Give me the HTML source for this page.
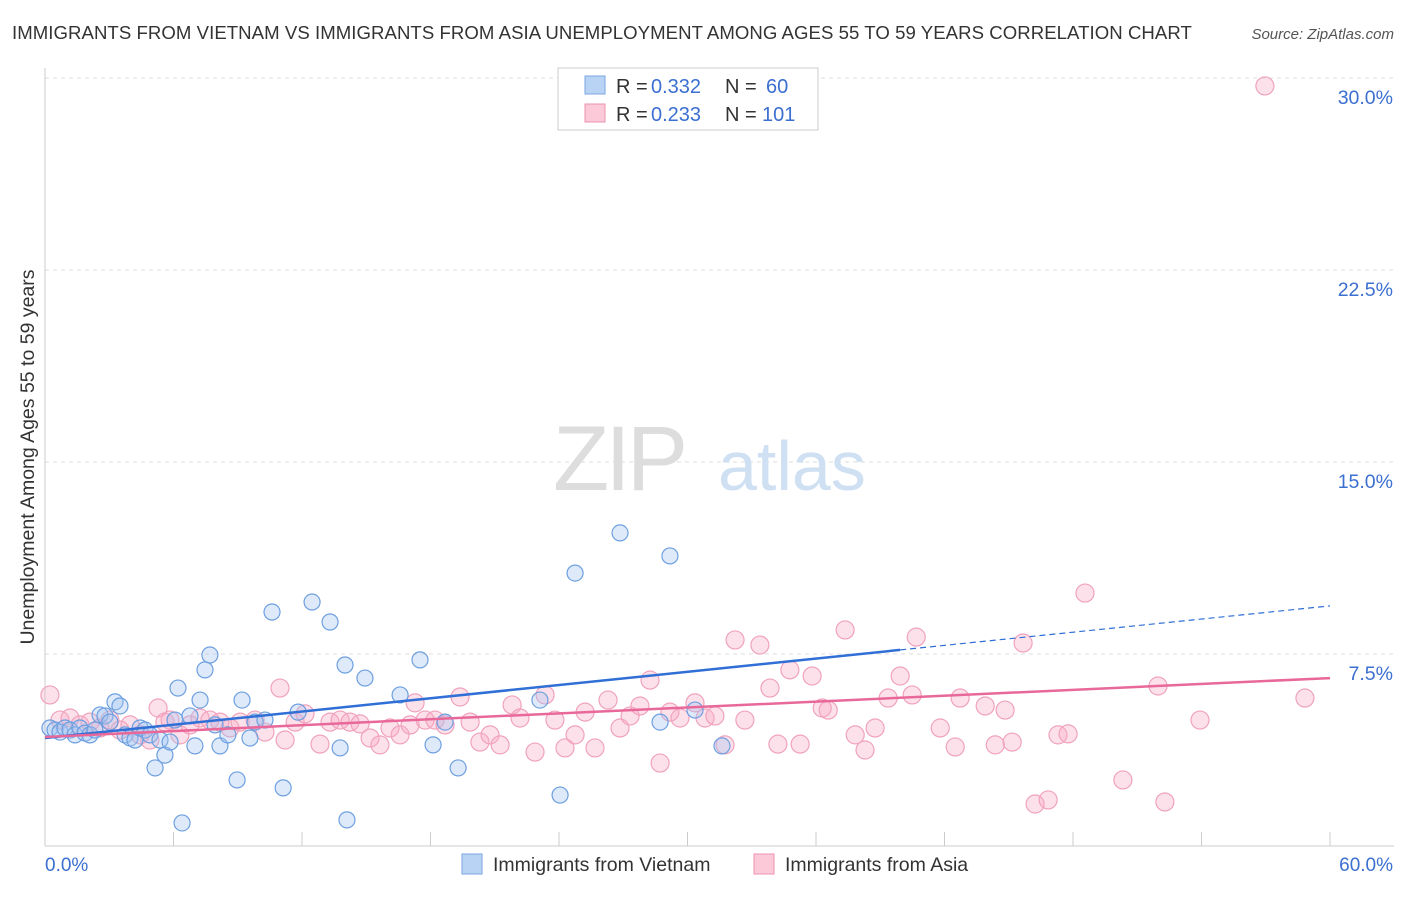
<!DOCTYPE html>
<html><head><meta charset="utf-8"><style>
body{margin:0;background:#fff;font-family:"Liberation Sans",sans-serif;}
svg text{font-family:"Liberation Sans",sans-serif;}
</style></head><body>
<svg id="chart" width="1406" height="892" viewBox="0 0 1406 892" xmlns="http://www.w3.org/2000/svg">
<text x="12" y="39" font-size="18.6" fill="#333" letter-spacing="0.05">IMMIGRANTS FROM VIETNAM VS IMMIGRANTS FROM ASIA UNEMPLOYMENT AMONG AGES 55 TO 59 YEARS CORRELATION CHART</text>
<text x="1394" y="39" font-size="15" fill="#555" font-style="italic" text-anchor="end">Source: ZipAtlas.com</text>
<g id="grid"></g>
<g id="axes"></g>
<text x="553" y="490" font-size="92" fill="#ddd" font-family="Liberation Serif" letter-spacing="-4">ZIP</text>
<text x="718" y="490" font-size="70" fill="#cfe0f3">atlas</text>
<g id="pink"></g>
<g id="blue"></g>
<g id="trends"></g>
<text transform="translate(34,457) rotate(-90)" font-size="19.5" fill="#333" text-anchor="middle">Unemployment Among Ages 55 to 59 years</text>
<g>
<rect x="558" y="68" width="260" height="62" fill="#fff" stroke="#ccc"/>
<rect x="585" y="76" width="20" height="18" fill="#b9d3f5" stroke="#7aa6e0"/>
<rect x="585" y="104" width="20" height="18" fill="#fbc9d8" stroke="#ee93b1"/>
<text x="616" y="93" font-size="20" fill="#333">R =</text>
<text x="651" y="93" font-size="20" fill="#3b6fd0">0.332</text>
<text x="725" y="93" font-size="20" fill="#333">N =</text>
<text x="766" y="93" font-size="20" fill="#3b6fd0">60</text>
<text x="616" y="121" font-size="20" fill="#333">R =</text>
<text x="651" y="121" font-size="20" fill="#3b6fd0">0.233</text>
<text x="725" y="121" font-size="20" fill="#333">N =</text>
<text x="762" y="121" font-size="20" fill="#3b6fd0">101</text>
</g>
<g>
<rect x="462" y="854" width="20" height="20" fill="#b9d3f5" stroke="#7aa6e0"/>
<text x="493" y="871" font-size="19.5" fill="#333">Immigrants from Vietnam</text>
<rect x="754" y="854" width="20" height="20" fill="#fbc9d8" stroke="#ee93b1"/>
<text x="785" y="871" font-size="19.5" fill="#333">Immigrants from Asia</text>
</g>
</svg>
<script>
const yTicks=[7.5,15,22.5,30];
const yTickLabels=["7.5%","15.0%","22.5%","30.0%"];
const xTickVals=[0,6,12,18,24,30,36,42,48,54,60];
const blueX=[0.23,0.47,0.70,0.93,1.17,1.40,1.63,1.87,2.10,2.33,2.57,2.80,3.03,3.27,3.50,3.74,3.97,4.20,4.44,4.67,4.90,5.14,5.37,5.60,5.84,6.07,6.21,6.40,6.77,7.00,7.24,7.47,7.70,7.94,8.17,8.54,8.97,9.20,9.57,9.81,10.27,10.60,11.12,11.82,12.47,13.31,13.78,14.01,14.10,14.94,16.58,17.51,18.12,18.68,19.29,23.11,24.05,24.75,26.85,28.72,29.18,30.35,31.61];
const blueY=[4.61,4.53,4.45,4.61,4.53,4.34,4.61,4.41,4.34,4.53,5.12,5.08,4.84,5.63,5.47,4.34,4.22,4.14,4.61,4.53,4.34,3.05,4.14,3.55,4.06,4.92,6.17,0.90,5.08,3.91,5.70,6.88,7.46,4.73,3.91,4.34,2.58,5.70,4.22,4.84,4.92,9.14,2.27,5.23,9.53,8.75,3.83,7.07,1.02,6.56,5.90,7.27,3.95,4.84,3.05,5.70,1.99,10.66,12.23,4.84,11.33,5.31,3.91];
const pinkX=[0.23,0.70,1.17,1.63,2.10,2.57,3.03,3.50,3.97,4.44,4.90,5.28,5.60,5.84,6.30,6.77,7.24,7.70,8.17,8.64,9.11,9.81,10.27,10.97,11.21,11.68,12.14,12.84,13.31,13.78,14.24,14.71,15.18,15.64,16.11,16.58,17.05,17.28,17.75,18.21,18.68,19.38,19.85,20.31,20.78,21.25,21.81,22.18,22.88,23.35,23.81,24.28,24.75,25.22,25.68,26.29,26.85,27.32,27.78,28.25,28.72,29.18,29.65,30.35,30.82,31.28,31.75,32.22,32.68,33.38,33.85,34.22,34.78,35.26,35.82,36.29,36.57,37.36,37.83,38.29,38.76,39.37,39.93,40.49,40.68,41.80,42.50,42.73,43.90,44.37,44.83,45.16,45.67,46.23,46.84,47.30,47.77,48.56,50.33,51.97,52.29,53.93,56.96,58.83];
const pinkY=[5.90,4.92,5.00,4.73,4.84,4.61,4.92,4.53,4.73,4.34,4.14,5.39,4.84,4.92,4.34,4.73,5.00,4.92,4.84,4.61,4.84,4.92,4.45,6.17,4.14,4.84,5.16,3.98,4.84,4.92,4.84,4.77,4.22,3.95,4.61,4.34,4.73,5.59,4.92,4.92,4.73,5.82,4.84,4.06,4.34,3.95,5.51,5.00,3.67,5.90,4.92,3.83,4.34,5.23,3.83,5.70,4.61,5.08,5.47,6.48,3.24,5.23,5.00,5.59,5.00,5.08,3.95,8.05,4.92,7.85,6.17,3.98,6.88,3.98,6.64,5.39,5.31,8.44,4.34,3.75,4.61,5.78,6.64,5.90,8.16,4.61,3.87,5.78,5.47,3.95,5.31,4.06,7.93,1.64,1.80,4.34,4.38,9.88,2.58,6.25,1.72,4.92,29.69,5.78];
const blueTrend=[0,4.22,39.93,7.66,60,9.38];
const pinkTrend=[0,4.26,60,6.56];
const NS="http://www.w3.org/2000/svg";
const X=v=>45+v*(1285/60);
const Y=v=>846-v*25.6;
function mk(tag,attrs,parent){const e=document.createElementNS(NS,tag);for(const k in attrs)e.setAttribute(k,attrs[k]);parent.appendChild(e);return e;}
const grid=document.getElementById('grid'),axes=document.getElementById('axes');
yTicks.forEach((t,i)=>{
 const l=mk('line',{x1:45,x2:1394,y1:Y(t),y2:Y(t),stroke:'#ddd','stroke-dasharray':'4,4'},grid);
 
 
 const tx=mk('text',{x:1393,y:Y(t)+26,'font-size':19.5,fill:'#3b6fd0','text-anchor':'end'},axes);
 tx.textContent=yTickLabels[i];
 
 
});
const ax=mk('line',{x1:45,x2:1394,y1:846,y2:846,stroke:'#ccc'},axes);


const ay=mk('line',{x1:45,x2:45,y1:68,y2:846,stroke:'#ccc'},axes);


xTickVals.forEach(v=>{
 const t=mk('line',{x1:X(v),x2:X(v),y1:832,y2:846,stroke:'#ccc'},axes);
 
 
});
const xl0=mk('text',{x:45,y:871,'font-size':19,fill:'#3b6fd0'},axes);xl0.textContent='0.0%';


const xl1=mk('text',{x:1393,y:871,'font-size':19,fill:'#3b6fd0','text-anchor':'end'},axes);xl1.textContent='60.0%';


const pg=document.getElementById('pink'),bg=document.getElementById('blue');
pinkX.forEach((x,i)=>{
 const c=mk('circle',{cx:X(x),cy:Y(pinkY[i]),r:9,fill:'rgba(248,170,195,0.35)',stroke:'#f0a2bc','stroke-width':1.2},pg);
 
 
});
blueX.forEach((x,i)=>{
 const c=mk('circle',{cx:X(x),cy:Y(blueY[i]),r:8,fill:'rgba(160,196,240,0.35)',stroke:'#6d9fe0','stroke-width':1.2},bg);
 
 
});
const tg=document.getElementById('trends');
const bl=mk('line',{x1:X(blueTrend[0]),y1:Y(blueTrend[1]),x2:X(blueTrend[2]),y2:Y(blueTrend[3]),stroke:'#2f6fd6','stroke-width':2.5},tg);


const bd=mk('line',{x1:X(blueTrend[2]),y1:Y(blueTrend[3]),x2:X(blueTrend[4]),y2:Y(blueTrend[5]),stroke:'#2f6fd6','stroke-width':1.2,'stroke-dasharray':'6,4'},tg);


const pl=mk('line',{x1:X(pinkTrend[0]),y1:Y(pinkTrend[1]),x2:X(pinkTrend[2]),y2:Y(pinkTrend[3]),stroke:'#e8689a','stroke-width':2.5},tg);


</script>
</body></html>
